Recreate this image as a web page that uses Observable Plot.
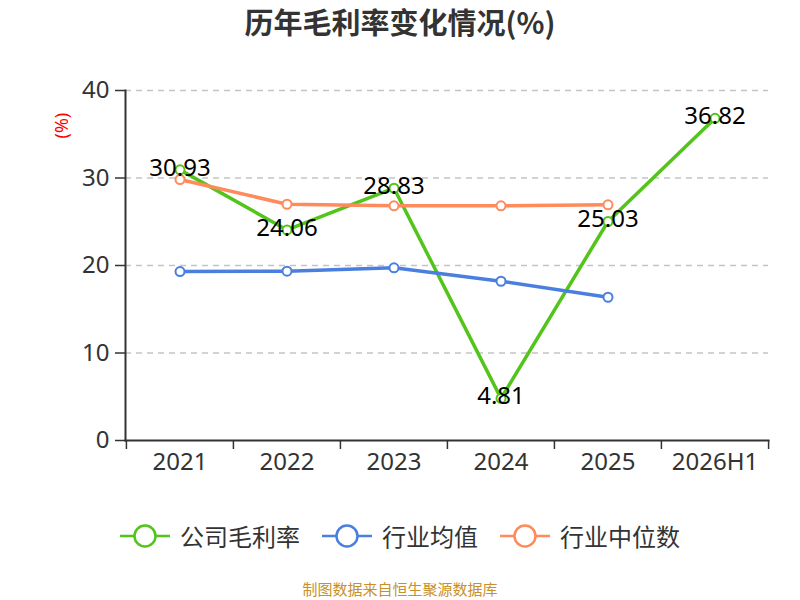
<!DOCTYPE html>
<html>
<head>
<meta charset="utf-8">
<script src="https://cdn.jsdelivr.net/npm/d3@7"></script>
<script src="https://cdn.jsdelivr.net/npm/@observablehq/plot@0.6"></script>
<style>
  body { margin: 0; background: #fff; font-family: "Noto Sans CJK SC", "Noto Sans", sans-serif; }
  #wrap { width: 800px; height: 600px; position: relative; overflow: hidden; }
  #title { height: 50px; line-height: 42px; text-align: center; font-size: 29px; font-weight: bold; color: #333; }
  #legend { position: absolute; top: 518px; left: 0; width: 800px; display: flex; justify-content: center; font-size: 24px; color: #333; }
  .item { display: flex; align-items: center; margin: 0 11px; }
  .item svg { margin-right: 10px; }
  #caption { position: absolute; top: 578px; width: 800px; text-align: center; font-size: 15px; color: #c8902a; }
</style>
</head>
<body>
<div id="wrap">
  <div id="title">历年毛利率变化情况(%)</div>
  <div id="chart"></div>
  <div id="legend"></div>
  <div id="caption">制图数据来自恒生聚源数据库</div>
</div>
<script>
const categories = ["2021", "2022", "2023", "2024", "2025", "2026H1"];
const seriesNames = ["公司毛利率", "行业均值", "行业中位数"];
const companyValues = [30.93, 24.06, 28.83, 4.81, 25.03, 36.82];
const industryMean = [19.31, 19.35, 19.74, 18.2, 16.37];
const industryMedian = [29.83, 27.0, 26.82, 26.82, 26.93];
const yTicks = [0, 10, 20, 30, 40];
const colors = ["#52c41a", "#4a7fe0", "#ff8a5b"];

const toRows = (vals, s) => vals.map((v, i) => ({ x: categories[i], y: v, s }));
const company = toRows(companyValues, seriesNames[0]);
const mean = toRows(industryMean, seriesNames[1]);
const median = toRows(industryMedian, seriesNames[2]);

const W = 800, H = 440, ML = 125, MR = 32, MT = 40, MB = 50;
const bw = (W - ML - MR) / categories.length;

const chart = Plot.plot({
  width: W, height: H,
  marginLeft: ML, marginRight: MR, marginTop: MT, marginBottom: MB,
  style: { fontFamily: "'Noto Sans', 'Noto Sans CJK SC', sans-serif", fontSize: "24px", color: "#333", background: "transparent" },
  x: { type: "band", domain: categories, padding: 0 },
  y: { domain: [0, 40] },
  marks: [
    Plot.gridY([10, 20, 30, 40], { stroke: "#c4c4c4", strokeOpacity: 1, strokeDasharray: "6,5", strokeWidth: 1.3 }),
    Plot.axisY({ ticks: yTicks, tickSize: 10, tickPadding: 6, fontSize: 24, stroke: "#333", strokeWidth: 1.5, fill: "#333", label: null }),
    Plot.axisX({ tickSize: 0, tickPadding: 12, fontSize: 24, fill: "#333", label: null }),
    Plot.axisX({ tickSize: 9, stroke: "#333", strokeWidth: 1.5, dx: -bw / 2, tickFormat: () => "", label: null }),
    Plot.axisX([categories[categories.length - 1]], { tickSize: 9, stroke: "#333", strokeWidth: 1.5, dx: bw / 2, tickFormat: () => "", label: null }),
    Plot.frame({ anchor: "left", stroke: "#333", strokeWidth: 2 }),
    Plot.frame({ anchor: "bottom", stroke: "#333", strokeWidth: 2 }),
    Plot.text(["(%)"], { frameAnchor: "top-left", dx: -70, dy: 48, rotate: -90, fill: "red", fontSize: 18 }),
    Plot.line(company, { x: "x", y: "y", stroke: colors[0], strokeWidth: 3.5 }),
    Plot.dot(company, { x: "x", y: "y", r: 4.5, fill: "white", stroke: colors[0], strokeWidth: 2 }),
    Plot.line(mean, { x: "x", y: "y", stroke: colors[1], strokeWidth: 3.5 }),
    Plot.dot(mean, { x: "x", y: "y", r: 4.5, fill: "white", stroke: colors[1], strokeWidth: 2 }),
    Plot.line(median, { x: "x", y: "y", stroke: colors[2], strokeWidth: 3.5 }),
    Plot.dot(median, { x: "x", y: "y", r: 4.5, fill: "white", stroke: colors[2], strokeWidth: 2 }),
    Plot.text(company, { x: "x", y: "y", text: d => d.y.toFixed(2), fontSize: 24, fill: "#000", dy: -2 })
  ]
});
document.getElementById("chart").appendChild(chart);

const legend = document.getElementById("legend");
seriesNames.forEach((name, i) => {
  const item = document.createElement("div");
  item.className = "item";
  item.innerHTML = `<svg width="50" height="30"><line x1="0" y1="15" x2="50" y2="15" stroke="${colors[i]}" stroke-width="2.5"/><circle cx="25" cy="15" r="10.5" fill="white" stroke="${colors[i]}" stroke-width="2.5"/></svg><span>${name}</span>`;
  legend.appendChild(item);
});
</script>
</body>
</html>
